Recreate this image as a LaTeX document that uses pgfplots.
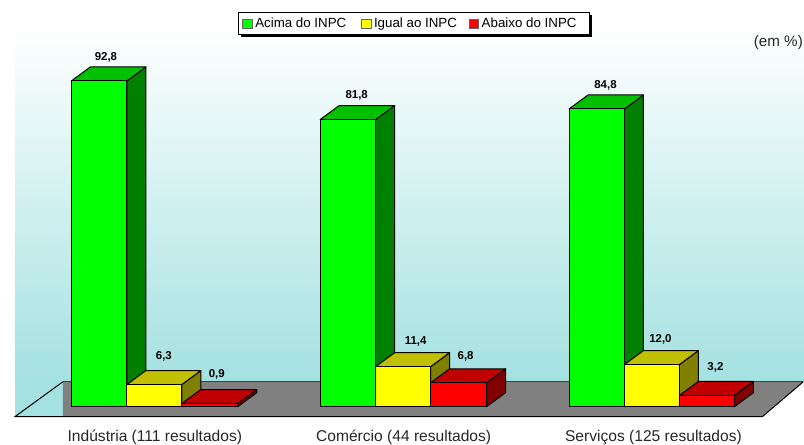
\documentclass[border=0pt]{standalone}
\usepackage{fontspec}
\setmainfont{Liberation Sans}
\usepackage{pgfplots}
\pgfplotsset{compat=1.18}
\definecolor{wallc}{HTML}{A4E1E1}
\definecolor{gr1}{HTML}{00FF00}\definecolor{gr2}{HTML}{00C000}\definecolor{gr3}{HTML}{008000}
\definecolor{ye1}{HTML}{FFFF00}\definecolor{ye2}{HTML}{C0C000}\definecolor{ye3}{HTML}{808000}
\definecolor{re1}{HTML}{FF0000}\definecolor{re2}{HTML}{C00000}\definecolor{re3}{HTML}{800000}
% x0, x1 (pixels along the chart), value, front, top, side colours
\newcommand{\tdbar}[6]{%
  \pgfmathsetmacro{\xa}{#1+19}\pgfmathsetmacro{\xb}{#2+19}%
  \pgfmathsetmacro{\va}{#3+3.985}%
  \addplot[forget plot,draw=black,line width=0.75pt,fill=#6,line join=round] coordinates {(#2,0)(\xb,3.985)(\xb,\va)(#2,#3)} -- cycle;
  \addplot[forget plot,draw=black,line width=0.75pt,fill=#5,line join=round] coordinates {(#1,#3)(\xa,\va)(\xb,\va)(#2,#3)} -- cycle;
  \addplot[forget plot,draw=black,line width=0.75pt,fill=#4,line join=round] coordinates {(#1,0)(#2,0)(#2,#3)(#1,#3)} -- cycle;
}
\begin{document}
\begin{tikzpicture}
\begin{axis}[
  scale only axis, width=603pt, height=332.25pt,
  xmin=0, xmax=804, ymin=-10.25, ymax=115.85,
  axis lines=none, clip=false,
  legend columns=3,
  legend style={at={(axis cs:238,112.4)},anchor=north west,draw=black,line width=0.6pt,fill=white,
    font=\fontsize{10pt}{10pt}\selectfont,inner xsep=3.2pt,inner ysep=2pt,
    /tikz/every even column/.style={column sep=7pt}},
  legend cell align=left,
  legend image code/.code={\draw[draw=black!60,line width=0.6pt,fill=#1] (0pt,-3.5pt) rectangle (7pt,3.5pt);},
]
\path (axis cs:0,-10.25) rectangle (axis cs:804,115.85);
% wall gradient
\fill[top color=white,bottom color=wallc,shading angle=0] (axis cs:15,108) rectangle (axis cs:804,7.1);
\fill[wallc] (axis cs:15,7.1) rectangle (axis cs:63,-2.85);
% floor
\addplot[forget plot,fill=gray,draw=none] coordinates {(63,7.1)(804,7.1)(763,-2.85)(63,-2.85)} -- cycle;
\addplot[forget plot,draw=black!75,line width=1pt] coordinates {(63,7.1)(804,7.1)};
\addplot[forget plot,draw=black,line width=0.75pt] coordinates {(63,7.1)(15,-2.85)(763,-2.85)(804,7.1)};
\addlegendimage{gr1}\addlegendentry{Acima do INPC\rule{2.2pt}{0pt}}
\addlegendimage{ye1}\addlegendentry{Igual ao INPC}
\addlegendimage{re1}\addlegendentry{Abaixo do INPC\rule{4.8pt}{0pt}}
% legend shadow
\fill[black] (axis cs:241,111.6) rectangle (axis cs:592.5,105.3);
% Indústria
\tdbar{71.5}{127}{92.8}{gr1}{gr2}{gr3}
\tdbar{127}{182}{6.3}{ye1}{ye2}{ye3}
\tdbar{182}{238}{0.9}{re1}{re2}{re3}
% Comércio
\tdbar{320.5}{376}{81.8}{gr1}{gr2}{gr3}
\tdbar{376}{431}{11.4}{ye1}{ye2}{ye3}
\tdbar{431}{487}{6.8}{re1}{re2}{re3}
% Serviços
\tdbar{569.5}{625}{84.8}{gr1}{gr2}{gr3}
\tdbar{625}{680}{12.0}{ye1}{ye2}{ye3}
\tdbar{680}{735}{3.2}{re1}{re2}{re3}
% value labels
\tikzset{vl/.style={font=\fontsize{8.6pt}{9pt}\selectfont\bfseries,text=black,inner sep=0pt}}
\node[vl] at (axis cs:106,99.6) {92,8};
\node[vl] at (axis cs:164,14.2) {6,3};
\node[vl] at (axis cs:217,9.1) {0,9};
\node[vl] at (axis cs:357,88.8) {81,8};
\node[vl] at (axis cs:416,18.5) {11,4};
\node[vl] at (axis cs:466,14.2) {6,8};
\node[vl] at (axis cs:606,91.6) {84,8};
\node[vl] at (axis cs:661,19.1) {12,0};
\node[vl] at (axis cs:716,11.1) {3,2};
% category labels
\tikzset{cl/.style={font=\fontsize{11.7pt}{13pt}\selectfont,text=black!85,inner sep=0pt}}
\node[cl] at (axis cs:155,-8.8) {Indústria (111 resultados)};
\node[cl] at (axis cs:404,-8.8) {Comércio (44 resultados)};
\node[cl] at (axis cs:654,-8.8) {Serviços (125 resultados)};
\node[font=\fontsize{11.4pt}{13pt}\selectfont,text=black!85,inner sep=0pt] at (axis cs:779,103.6) {(em \%)};
\end{axis}
\end{tikzpicture}
\end{document}
